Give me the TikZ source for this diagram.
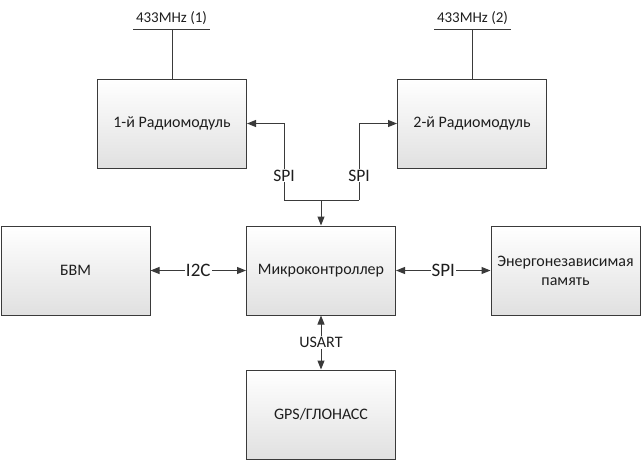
\documentclass[tikz,border=0pt]{standalone}
\usepackage{fontspec}
\setmainfont{Carlito}
\usetikzlibrary{arrows.meta}
\definecolor{linegray}{HTML}{3A3A3A}
\definecolor{textgray}{HTML}{1E1E1E}
\begin{document}
\begin{tikzpicture}[x=1pt,y=-1pt,
    block/.style={draw=linegray, line width=1pt, top color=white, bottom color=black!12,
      minimum width=149pt, minimum height=89pt, align=center, text=textgray,
      font=\fontsize{16}{19}\selectfont, inner sep=2pt},
    link/.style={draw=linegray, line width=1pt},
    tip/.style={link, -{Triangle[length=9pt,width=7pt]}},
    both/.style={link, {Triangle[length=9pt,width=7pt]}-{Triangle[length=9pt,width=7pt]}},
    tag/.style={fill=white, text=textgray, inner sep=1pt, font=\fontsize{16}{19}\selectfont},
    bigtag/.style={tag, font=\fontsize{19}{21}\selectfont}]
  \useasboundingbox (0,0) rectangle (644,464);

  % Define the blocks
  \node[block] (radA) at (172,123.5) {1-й Радиомодуль};
  \node[block] (radB) at (472,123.5) {2-й Радиомодуль};
  \node[block] (bvm) at (75.5,270.5) {БВМ};
  \node[block] (mcu) at (321,270.5) {Микроконтроллер};
  \node[block] (mem) at (565.5,270.5) {Энергонезависимая\\память};
  \node[block] (gps) at (321,414.5) {GPS/ГЛОНАСС};

  % Antennas
  \coordinate (antA) at (172,29);
  \coordinate (antB) at (472,29);
  \draw[link] (radA.north) -- (antA);
  \draw[link] ([xshift=-39pt]antA) -- node[tag, fill=none, font=\fontsize{15}{18}\selectfont, above=3pt] (antAlbl) {433MHz (1)} ([xshift=38pt]antA);
  \draw[link] (radB.north) -- (antB);
  \draw[link] ([xshift=-38pt]antB) -- node[tag, fill=none, font=\fontsize{15}{18}\selectfont, above=3pt] (antBlbl) {433MHz (2)} ([xshift=39pt]antB);

  % SPI bus to the radio modules
  \coordinate (spiL) at (284,200);
  \coordinate (spiR) at (359,200);
  \coordinate (spiJ) at (321,200);
  \draw[link] (spiL) -- (spiR);
  \draw[tip] (spiJ) -- (mcu.north);
  \draw[tip] (spiL) -- node[tag, pos=0.32, font=\fontsize{17.5}{19}\selectfont] (spiAlbl) {SPI} (spiL |- radA.east) -- (radA.east);
  \draw[tip] (spiR) -- node[tag, pos=0.32, font=\fontsize{17.5}{19}\selectfont] (spiBlbl) {SPI} (spiR |- radB.west) -- (radB.west);

  % Other buses
  \draw[both] (bvm) -- node[bigtag] (i2c) {I2C} (mcu);
  \draw[both] (mcu) -- node[bigtag] (spiM) {SPI} (mem);
  \draw[both] (mcu) -- node[tag] (usart) {USART} (gps);
\end{tikzpicture}
\end{document}
